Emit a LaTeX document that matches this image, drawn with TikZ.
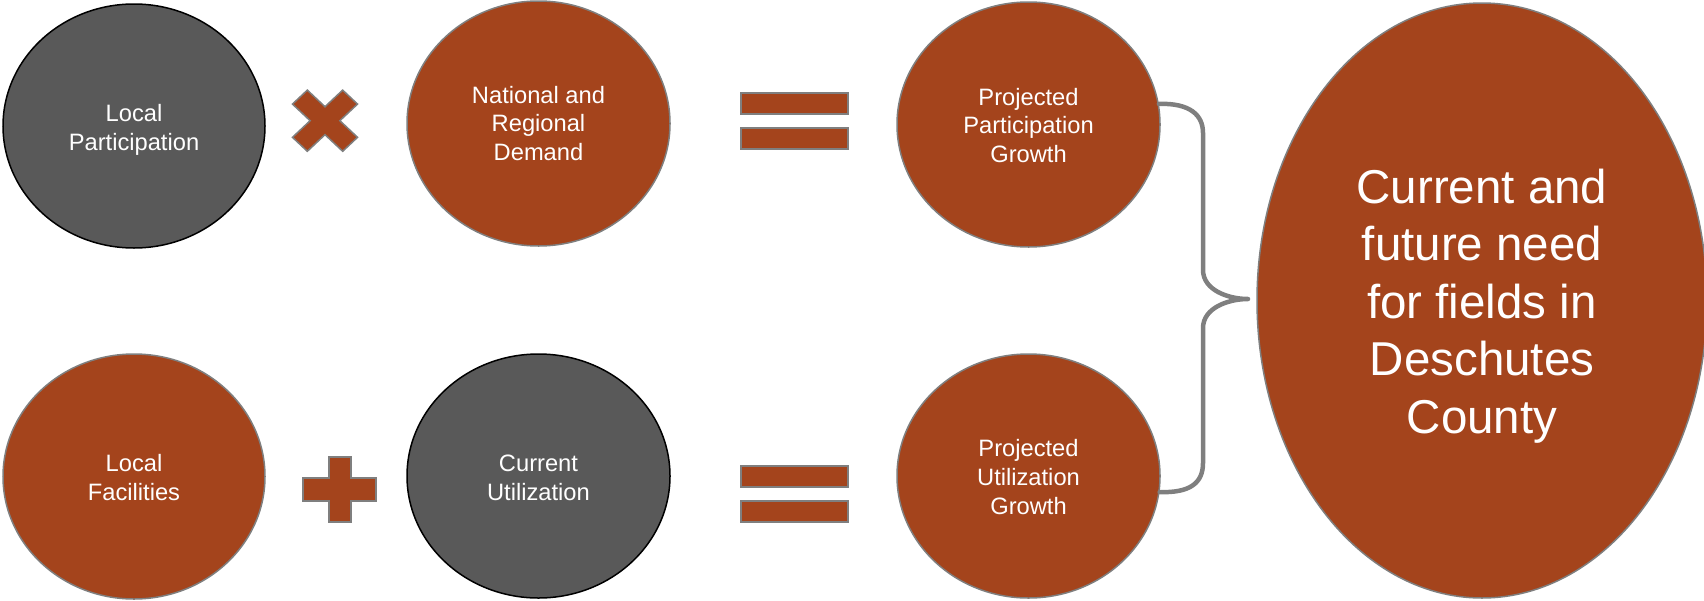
\documentclass[tikz,border=0pt]{standalone}
\usepackage{fontspec}
\setmainfont{Liberation Sans}
\usetikzlibrary{shapes.geometric}
\definecolor{rust}{HTML}{A4441C}
\definecolor{dgray}{HTML}{595959}
\definecolor{edgegray}{HTML}{7F7F7F}
\begin{document}
\begin{tikzpicture}[x=1pt,y=-1pt,
  rustell/.style={ellipse, fill=rust, draw=edgegray, line width=1.5pt, inner sep=0pt},
  grayell/.style={ellipse, fill=dgray, draw=black, line width=1.5pt, inner sep=0pt},
  lbl/.style={text=white, align=center, inner sep=0pt, font=\fontsize{23.7}{28.7}\selectfont},
  biglbl/.style={text=white, align=center, inner sep=0pt, font=\fontsize{47.5}{57.5}\selectfont},
  sym/.style={fill=rust, draw=edgegray, line width=1.5pt},
  bar/.style={sym, rectangle, inner sep=0pt, minimum width=107pt, minimum height=21pt},
  bracket/.style={draw=edgegray, line width=4.5pt, line cap=round, line join=round}]
\useasboundingbox (0,0) rectangle (1704,600);

% top row
\node[grayell, minimum width=262pt, minimum height=244pt] (lp) at (134,126) {};
\node[lbl] (lpt) at (134,130) {Local\\Participation};
\node[rustell, minimum width=263pt, minimum height=245pt] (nrd) at (538.5,123.5) {};
\node[lbl] (nrdt) at (538.5,123.5) {National and\\Regional\\Demand};
\node[rustell, minimum width=263pt, minimum height=245pt] (ppg) at (1028.5,124.5) {};
\node[lbl] (ppgt) at (1028.5,125.5) {Projected\\Participation\\Growth};

% bottom row
\node[rustell, minimum width=262pt, minimum height=245pt] (lf) at (134,476.5) {};
\node[lbl] (lft) at (134,477.5) {Local\\Facilities};
\node[grayell, minimum width=263pt, minimum height=244pt] (cu) at (538.5,476) {};
\node[lbl] (cut) at (538.5,477.5) {Current\\Utilization};
\node[rustell, minimum width=263pt, minimum height=244pt] (pug) at (1028.5,476) {};
\node[lbl] (pugt) at (1028.5,477) {Projected\\Utilization\\Growth};

% big ellipse
\node[rustell, minimum width=450pt, minimum height=595pt] (need) at (1482,300.5) {};
\node[biglbl] (needt) at (1482,306) {Current and\\future need\\for fields in\\Deschutes\\County};

% times sign
\draw[sym, shift={(325,120.7)}, yscale=0.94, rotate=45]
  (10.5,10.5) -- (10.5,35.5) -- (-10.5,35.5) -- (-10.5,10.5) -- (-35.5,10.5) -- (-35.5,-10.5)
  -- (-10.5,-10.5) -- (-10.5,-35.5) -- (10.5,-35.5) -- (10.5,-10.5) -- (35.5,-10.5) -- (35.5,10.5) -- cycle;

% plus sign
\draw[sym] (329,457) -- (351,457) -- (351,478) -- (376,478) -- (376,501) -- (351,501)
  -- (351,522) -- (329,522) -- (329,501) -- (303,501) -- (303,478) -- (329,478) -- cycle;

% equals signs
\node[bar] (eq1a) at (794.5,103.5) {};
\node[bar] (eq1b) at (794.5,138.5) {};
\node[bar] (eq2a) at (794.5,476.5) {};
\node[bar] (eq2b) at (794.5,511.5) {};

% brace
\coordinate (tip) at (1248,299);
\draw[bracket] (ppg.9.4) .. controls (1190,103) and (1203,115) .. (1203,133)
  -- (1203,270) .. controls (1203,290) and (1228,299) .. (tip)
  .. controls (1228,299) and (1203,308) .. (1203,328)
  -- (1203,463) .. controls (1203,483) and (1190,493) .. (pug.-7.5);
\end{tikzpicture}
\end{document}
